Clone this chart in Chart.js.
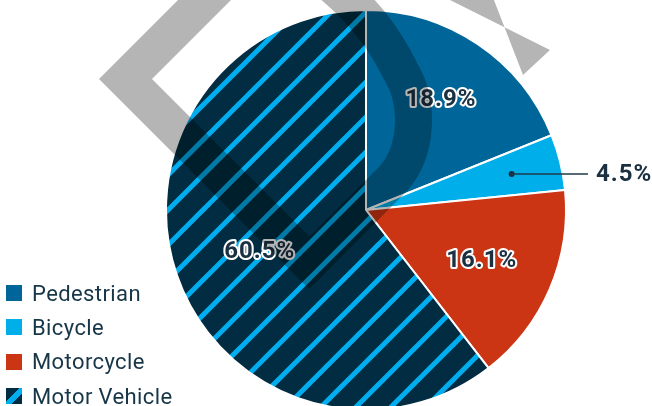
<!DOCTYPE html>
<html lang="en">
<head>
  <meta charset="UTF-8" />
  <title>Fatalities by mode</title>
  <script src="https://cdn.jsdelivr.net/npm/chart.js"></script>
  <style>
    html, body { margin: 0; padding: 0; background: #fff; overflow: hidden; }
    #wrap { position: relative; width: 652px; height: 406px; }
    #legend {
      position: absolute; left: 6px; top: 276px;
      font-family: Roboto, "DejaVu Sans", sans-serif; font-size: 22px;
      letter-spacing: 0.4px; color: #173648;
    }
    .item { height: 34.3px; display: flex; align-items: center; }
    .swatch { width: 16px; height: 16px; margin-right: 10px; }
  </style>
</head>
<body>
  <div id="wrap">
    <canvas id="pie" width="652" height="406"></canvas>
    <div id="legend"></div>
  </div>

  <script>
    const categories = ["Pedestrian", "Bicycle", "Motorcycle", "Motor Vehicle"];
    const shares = [18.9, 4.5, 16.1, 60.5];

    const NAVY = "#012c41";
    const CYAN = "#00aeea";
    const INK = "#1b3142";

    // diagonal stripe fill for the motor vehicle slice
    function stripes() {
      const t = document.createElement("canvas");
      t.width = t.height = 35;
      const c = t.getContext("2d");
      c.fillStyle = NAVY;
      c.fillRect(0, 0, 35, 35);
      c.strokeStyle = "#00aeef";
      c.lineWidth = 5;
      [-7, 28, 63].forEach(k => {
        c.beginPath();
        c.moveTo(k + 10, -10);
        c.lineTo(k - 45, 45);
        c.stroke();
      });
      return c.createPattern(t, "repeat");
    }

    const fills = ["#006699", CYAN, "#cc3514", stripes()];
    // how far out (fraction of radius) each value label sits
    const labelPos = [0.67, 0.75, 0.63, 0.57];
    const labelTurn = [0, 0, 0, -0.04];

    const valueLabels = {
      id: "valueLabels",
      afterDatasetsDraw(chart) {
        const ctx = chart.ctx;
        const arcs = chart.getDatasetMeta(0).data;
        ctx.save();
        ctx.textBaseline = "middle";
        arcs.forEach((arc, i) => {
          const p = arc.getProps(["x", "y", "startAngle", "endAngle", "outerRadius"], true);
          const mid = (p.startAngle + p.endAngle) / 2 + labelTurn[i];
          const r = p.outerRadius * labelPos[i];
          const x = p.x + Math.cos(mid) * r;
          const y = p.y + Math.sin(mid) * r;
          const txt = shares[i].toFixed(1) + "%";
          ctx.font = "bold 24px Roboto, sans-serif";
          ctx.letterSpacing = "1px";
          if (i === 1) {
            // small slice: leader line out to the right
            ctx.fillStyle = INK;
            ctx.strokeStyle = "#1f3a4a";
            ctx.lineWidth = 1.5;
            ctx.beginPath();
            ctx.arc(x, y, 3, 0, Math.PI * 2);
            ctx.fill();
            ctx.beginPath();
            ctx.moveTo(x, y);
            ctx.lineTo(588, y);
            ctx.stroke();
            ctx.textAlign = "left";
            ctx.fillText(txt, 596, y + 1);
          } else {
            ctx.textAlign = "center";
            ctx.lineJoin = "round";
            ctx.lineWidth = 4;
            ctx.strokeStyle = "#fff";
            ctx.strokeText(txt, x, y + 1);
            ctx.fillStyle = INK;
            ctx.fillText(txt, x, y + 1);
          }
        });
        ctx.restore();
      }
    };

    // grey logo mark laid over the chart
    const logoMark = {
      id: "logoMark",
      afterDraw(chart) {
        const { ctx, width, height } = chart;
        const off = document.createElement("canvas");
        off.width = width;
        off.height = height;
        const g = off.getContext("2d");
        g.fillStyle = "#000";
        g.strokeStyle = "#000";

        // left chevron
        g.beginPath();
        g.moveTo(99, 79);
        g.lineTo(238, -60);
        g.lineTo(291, -60);
        g.lineTo(152, 79);
        g.lineTo(335.5, 262.5);
        g.lineTo(309, 289);
        g.closePath();
        g.fill();

        // curved band with straight tail
        g.lineWidth = 37;
        g.beginPath();
        g.moveTo(300, 272);
        g.lineTo(392, 180);
        g.bezierCurveTo(420, 150, 418, 100, 401, 72);
        g.bezierCurveTo(385, 40, 365, 10, 320, -25);
        g.stroke();

        // right band
        g.beginPath();
        g.moveTo(440, -5);
        g.lineTo(550, 50);
        g.lineTo(523, 75);
        g.lineTo(492, -5);
        g.closePath();
        g.fill();

        ctx.save();
        ctx.globalAlpha = 0.29;
        ctx.drawImage(off, 0, 0);
        ctx.restore();
      }
    };

    new Chart(document.getElementById("pie"), {
      type: "pie",
      data: {
        labels: categories,
        datasets: [{
          data: shares,
          backgroundColor: fills,
          borderColor: "#fff",
          borderWidth: 2,
          clip: false
        }]
      },
      options: {
        responsive: false,
        animation: false,
        radius: 200,
        layout: { padding: { left: 80, top: 14 } },
        plugins: {
          legend: { display: false },
          tooltip: { enabled: false }
        }
      },
      plugins: [valueLabels, logoMark]
    });

    const swatches = ["#006699", CYAN, "#cc3514",
      "linear-gradient(135deg, " + NAVY + " 0 42%, #00aeef 42% 68%, " + NAVY + " 68%)"];
    const legend = document.getElementById("legend");
    categories.forEach((name, i) => {
      const row = document.createElement("div");
      row.className = "item";
      row.innerHTML = `<span class="swatch" style="background:${swatches[i]}"></span><span>${name}</span>`;
      legend.appendChild(row);
    });
  </script>
</body>
</html>
